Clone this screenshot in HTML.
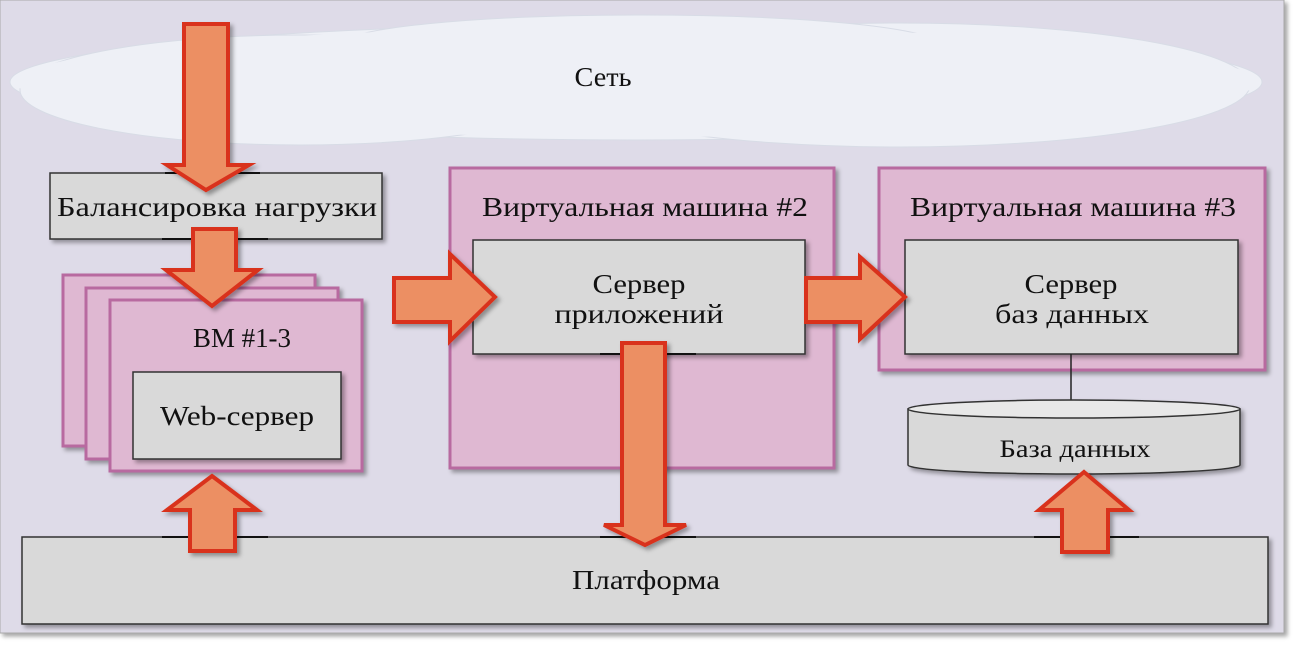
<!DOCTYPE html>
<html><head><meta charset="utf-8"><style>
html,body{margin:0;padding:0;background:#fff;}
svg{display:block;}
text{font-family:"Liberation Serif","DejaVu Serif",serif;font-size:27px;fill:#111;text-anchor:middle;}
</style></head><body>
<svg width="1296" height="647" viewBox="0 0 1296 647" xmlns="http://www.w3.org/2000/svg">
<defs>
<filter id="sh" x="-5%" y="-5%" width="115%" height="120%"><feDropShadow dx="3" dy="3" stdDeviation="2" flood-color="#000" flood-opacity="0.35"/></filter>
</defs>
<rect x="0" y="0" width="1284" height="633" fill="#dedbe8" stroke="#aaa" stroke-width="1" filter="url(#sh)"/>
<g fill="#eef0f6" stroke="#d8dce6" stroke-width="1">
<ellipse cx="636" cy="82" rx="626" ry="58"/>
<ellipse cx="300" cy="90" rx="280" ry="55"/>
<ellipse cx="900" cy="85" rx="350" ry="62"/>
<ellipse cx="640" cy="45" rx="300" ry="30"/>
</g>
<ellipse cx="636" cy="82" rx="620" ry="55" fill="#eef0f6"/>
<text x="603" y="86" textLength="57" lengthAdjust="spacingAndGlyphs">Сеть</text>
<g fill="#dfb8d2" stroke="#b86aa0" stroke-width="3" filter="url(#sh)">
<rect x="63" y="275" width="252" height="171"/>
<rect x="86" y="288" width="252" height="171"/>
<rect x="110" y="300" width="252" height="171"/>
<rect x="450" y="168" width="384" height="300"/>
<rect x="879" y="168" width="386" height="202"/>
</g>
<g fill="#d9d9d9" stroke="#333" stroke-width="1.5" filter="url(#sh)">
<rect x="50" y="173" width="332" height="66"/>
<rect x="133" y="372" width="208" height="87"/>
<rect x="473" y="240" width="332" height="114"/>
<rect x="905" y="240" width="333" height="114"/>
<rect x="22" y="537" width="1246" height="87"/>
</g>
<line x1="1071" y1="354" x2="1071" y2="402" stroke="#222" stroke-width="1.5"/>
<g filter="url(#sh)">
<path d="M908 409 L908 465 A166 9 0 0 0 1240 465 L1240 409 Z" fill="#d9d9d9" stroke="#333" stroke-width="1.5"/>
<ellipse cx="1074" cy="409" rx="166" ry="9" fill="#e8e8e8" stroke="#333" stroke-width="1.5"/>
</g>
<g stroke="#111" stroke-width="2">
<line x1="165" y1="173" x2="260" y2="173"/>
<line x1="162" y1="239" x2="268" y2="239"/>
<line x1="162" y1="537" x2="268" y2="537"/>
<line x1="600" y1="354" x2="696" y2="354"/>
<line x1="600" y1="537" x2="696" y2="537"/>
<line x1="1034" y1="537" x2="1139" y2="537"/>
</g>
<text x="217" y="216" textLength="320" lengthAdjust="spacingAndGlyphs">Балансировка нагрузки</text>
<text x="242" y="347" textLength="98" lengthAdjust="spacingAndGlyphs">ВМ #1-3</text>
<text x="237" y="425" textLength="154" lengthAdjust="spacingAndGlyphs">Web-сервер</text>
<text x="645" y="216" textLength="326" lengthAdjust="spacingAndGlyphs">Виртуальная машина #2</text>
<text x="639" y="293" textLength="93" lengthAdjust="spacingAndGlyphs">Сервер</text>
<text x="639" y="323" textLength="169" lengthAdjust="spacingAndGlyphs">приложений</text>
<text x="1073" y="216" textLength="326" lengthAdjust="spacingAndGlyphs">Виртуальная машина #3</text>
<text x="1071" y="293" textLength="93" lengthAdjust="spacingAndGlyphs">Сервер</text>
<text x="1072" y="323" textLength="154" lengthAdjust="spacingAndGlyphs">баз данных</text>
<text x="1075" y="457" style="font-size:25px" textLength="151" lengthAdjust="spacingAndGlyphs">База данных</text>
<text x="646" y="589" textLength="148" lengthAdjust="spacingAndGlyphs">Платформа</text>
<g fill="#ec8f64" stroke="#d9301e" stroke-width="4" stroke-linejoin="miter" filter="url(#sh)">
<polygon points="184,24 228,24 228,165 249,165 206,190 167,165 184,165"/>
<polygon points="193,229 236,229 236,270 258,270 212,306 166,270 193,270"/>
<polygon points="394,278 450,278 450,254 495,297 450,341 450,322 394,322"/>
<polygon points="806,278 860,278 860,257 905,297 860,339 860,322 806,322"/>
<polygon points="622,343 665,343 665,525 686,525 645,545 604,525 622,525"/>
<polygon points="212,476 257,510 235,510 235,551 190,551 190,510 167,510"/>
<polygon points="1084,472 1129,510 1108,510 1108,552 1062,552 1062,510 1039,510"/>
</g>
</svg>
</body></html>
